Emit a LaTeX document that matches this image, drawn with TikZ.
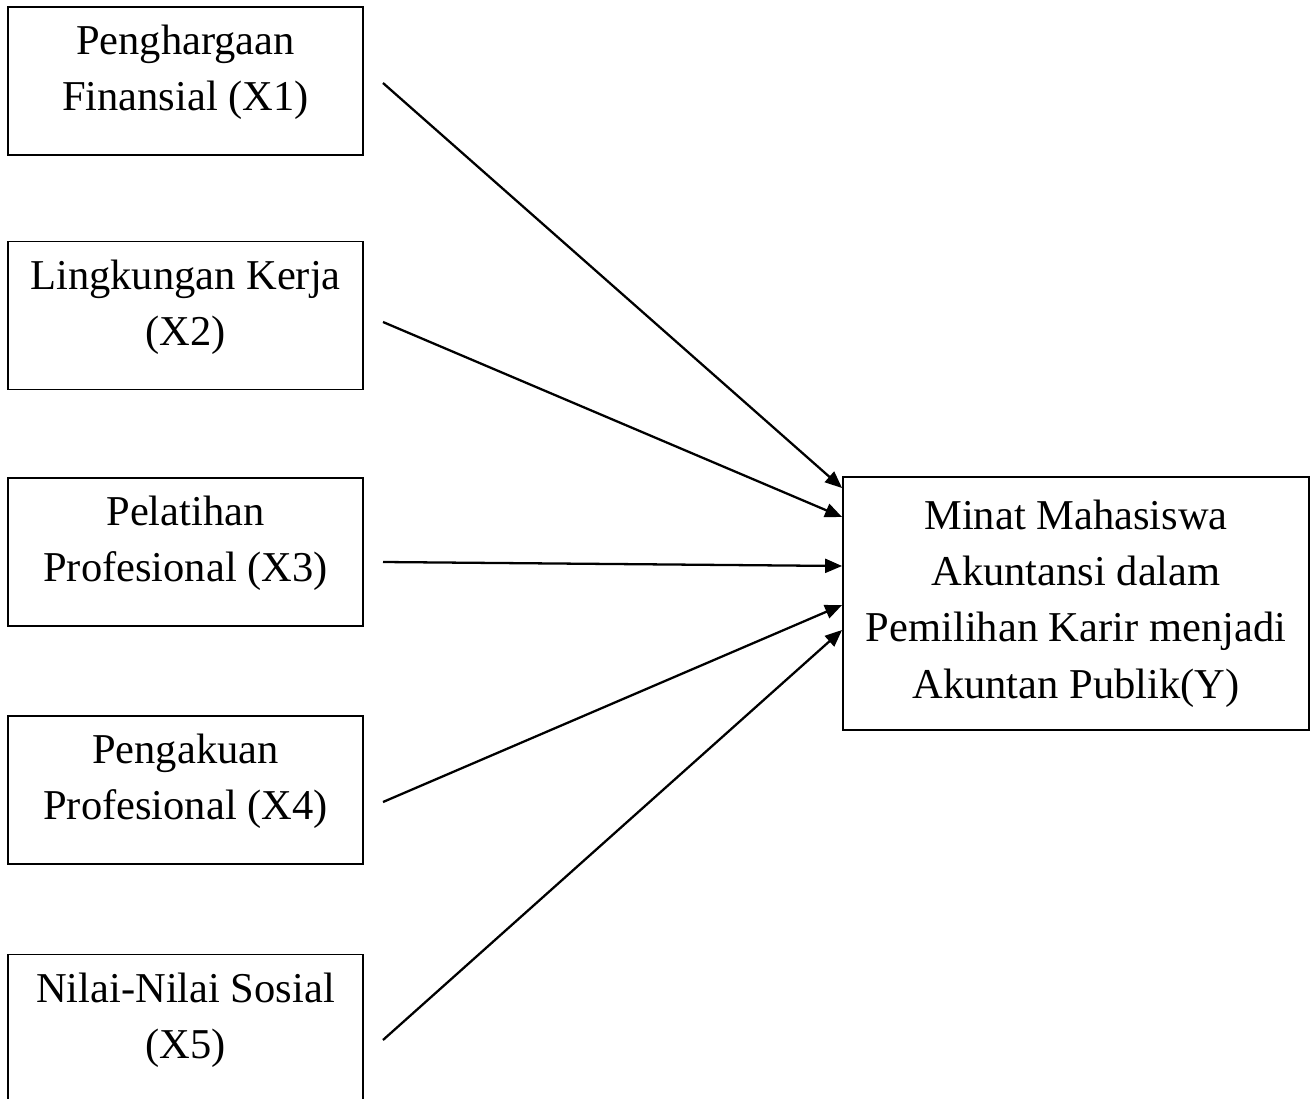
\documentclass[tikz,border=0pt]{standalone}
\usepackage{fontspec}
\setmainfont{Liberation Serif}
\usetikzlibrary{arrows.meta}

\begin{document}
\begin{tikzpicture}[x=0.02cm,y=-0.02cm,
	varbox/.style={draw,line width=1.1pt,minimum width=7.1cm,minimum height=2.96cm,inner sep=0pt},
	vartext/.style={align=center,font=\fontsize{24.2}{32}\selectfont,inner sep=0pt},
	arr/.style={-{Triangle[length=0.34cm,width=0.28cm]},line width=1.3pt}]
	\clip (0,0) rectangle (1316,1099);

	% variabel bebas
	\begin{scope}
		\node[varbox] (x1) at (185.5,81) {};
		\node[varbox] (x2) at (185.5,315.5) {};
		\node[varbox] (x3) at (185.5,552) {};
		\node[varbox] (x4) at (185.5,790) {};
		\node[varbox] (x5) at (185.5,1028.5) {};
		\node[vartext] (t1) at ([yshift=0.17cm]x1) {Penghargaan\\Finansial (X1)};
		\node[vartext] (t2) at ([yshift=0.17cm]x2) {Lingkungan Kerja\\(X2)};
		\node[vartext] (t3) at ([yshift=0.17cm]x3) {Pelatihan\\Profesional (X3)};
		\node[vartext] (t4) at ([yshift=0.17cm]x4) {Pengakuan\\Profesional (X4)};
		\node[vartext] (t5) at ([yshift=0.17cm]x5) {Nilai-Nilai Sosial\\(X5)};
	\end{scope}

	% variabel terikat
	\node[varbox,minimum width=9.32cm,minimum height=5.06cm] (y) at (1076,603.5) {};
	\node[vartext] (ty) at (y) {Minat Mahasiswa\\Akuntansi dalam\\Pemilihan Karir menjadi\\Akuntan Publik(Y)};

	% ujung panah
	\coordinate (s1) at (383,83);
	\coordinate (s2) at (383,322);
	\coordinate (s3) at (383,562);
	\coordinate (s4) at (383,802);
	\coordinate (s5) at (383,1040);
	\coordinate (e1) at (y.west |- 0,488);
	\coordinate (e2) at (y.west |- 0,517);
	\coordinate (e3) at (y.west |- 0,566);
	\coordinate (e4) at (y.west |- 0,605);
	\coordinate (e5) at (y.west |- 0,630);

	\draw[arr] (s1) -- (e1);
	\draw[arr] (s2) -- (e2);
	\draw[arr] (s3) -- (e3);
	\draw[arr] (s4) -- (e4);
	\draw[arr] (s5) -- (e5);
\end{tikzpicture}
\end{document}
